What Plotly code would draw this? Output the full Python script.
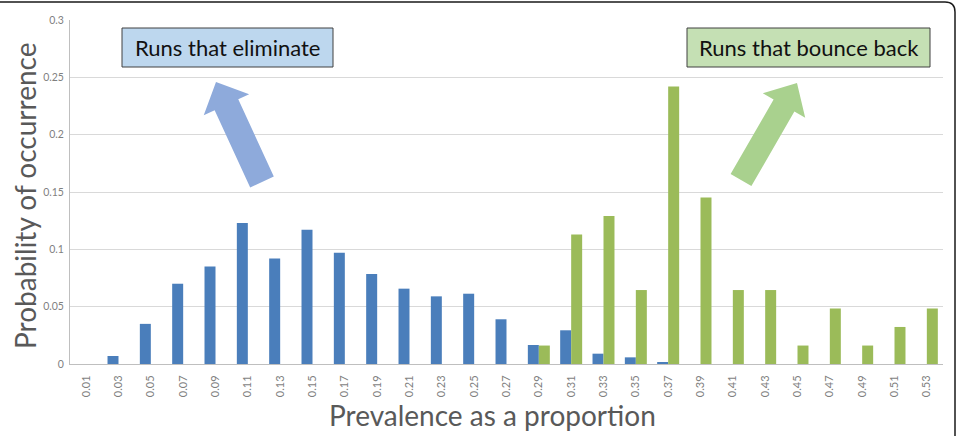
import math
import plotly.graph_objects as go

categories = ["0.01", "0.03", "0.05", "0.07", "0.09", "0.11", "0.13", "0.15", "0.17",
              "0.19", "0.21", "0.23", "0.25", "0.27", "0.29", "0.31", "0.33", "0.35",
              "0.37", "0.39", "0.41", "0.43", "0.45", "0.47", "0.49", "0.51", "0.53"]
eliminate = [0, 0.007, 0.035, 0.070, 0.085, 0.123, 0.092, 0.117, 0.097,
             0.0785, 0.0657, 0.059, 0.0613, 0.039, 0.0166, 0.0294, 0.009, 0.0058,
             0.001, 0, 0, 0, 0, 0, 0, 0, 0]
bounce = [0, 0, 0, 0, 0, 0, 0, 0, 0,
          0, 0, 0, 0, 0, 0.0161, 0.1129, 0.1290, 0.0645,
          0.2419, 0.1452, 0.0645, 0.0645, 0.0161, 0.0484, 0.0161, 0.0323, 0.0484]
y_ticks = [0, 0.05, 0.1, 0.15, 0.2, 0.25, 0.3]
y_tick_text = ["0", "0.05", "0.1", "0.15", "0.2", "0.25", "0.3"]

W, H = 959, 436
L, R, T, B = 70, 943, 20, 364
FONT = "Lato, Open Sans, sans-serif"

def px(x, y):
    return ((x - L) / (R - L), (B - y) / (B - T))

def arrow_path(tail, tip, shaft_w, head_w, head_len):
    dx, dy = tip[0] - tail[0], tip[1] - tail[1]
    n = math.hypot(dx, dy)
    ux, uy = dx / n, dy / n
    vx, vy = -uy, ux
    bx, by = tip[0] - ux * head_len, tip[1] - uy * head_len
    pts = [
        (tail[0] + vx * shaft_w / 2, tail[1] + vy * shaft_w / 2),
        (bx + vx * shaft_w / 2, by + vy * shaft_w / 2),
        (bx + vx * head_w / 2, by + vy * head_w / 2),
        tip,
        (bx - vx * head_w / 2, by - vy * head_w / 2),
        (bx - vx * shaft_w / 2, by - vy * shaft_w / 2),
        (tail[0] - vx * shaft_w / 2, tail[1] - vy * shaft_w / 2),
    ]
    s = ""
    for i, (x, y) in enumerate(pts):
        a, b = px(x, y)
        s += ("M" if i == 0 else "L") + f"{a:.5f},{b:.5f} "
    return s + "Z"

fig = go.Figure()
fig.add_trace(go.Bar(x=categories, y=eliminate, name="Runs that eliminate",
                     marker=dict(color="#4a7ebb", line=dict(width=0))))
fig.add_trace(go.Bar(x=categories, y=bounce, name="Runs that bounce back",
                     marker=dict(color="#9bbb59", line=dict(width=0))))

shapes = []
# outer frame (cropped rounded rectangle)
p0 = px(0, 2); p1 = px(945, 2); pc = px(955, 2); p2 = px(955, 12); p3 = px(955, 440)
shapes.append(dict(type="path", xref="paper", yref="paper",
                   path=f"M{p0[0]},{p0[1]} L{p1[0]},{p1[1]} Q{pc[0]},{pc[1]} {p2[0]},{p2[1]} L{p3[0]},{p3[1]}",
                   line=dict(color="#1a1a1a", width=1.5), layer="above"))
# arrows
shapes.append(dict(type="path", xref="paper", yref="paper",
                   path=arrow_path((262, 182), (216, 82), 26, 50, 25),
                   fillcolor="#8eaadb", line=dict(width=0), layer="above"))
shapes.append(dict(type="path", xref="paper", yref="paper",
                   path=arrow_path((741, 180), (797, 83), 24, 49, 26),
                   fillcolor="#a9d18e", line=dict(width=0), layer="above"))
# label boxes
for (x0, y0, x1, y1, col) in [(122, 28, 333, 67, "#bdd7ee"), (687, 28, 930, 67, "#c5e0b4")]:
    a = px(x0, y1); b = px(x1, y0)
    shapes.append(dict(type="rect", xref="paper", yref="paper", x0=a[0], y0=a[1], x1=b[0], y1=b[1],
                       fillcolor=col, line=dict(color="#404040", width=1), layer="above"))

annotations = []
for (cx, cy, txt) in [(227.5, 47.5, "Runs that eliminate"), (808.5, 47.5, "Runs that bounce back")]:
    a = px(cx, cy)
    annotations.append(dict(x=a[0], y=a[1], xref="paper", yref="paper", text=txt, showarrow=False,
                            xanchor="center", yanchor="middle",
                            font=dict(family=FONT, size=22, color="#111111")))
# axis titles
a = px(492, 415)
annotations.append(dict(x=a[0], y=a[1], xref="paper", yref="paper", text="Prevalence as a proportion",
                        showarrow=False, xanchor="center", yanchor="middle",
                        font=dict(family=FONT, size=28, color="#595959")))
a = px(25, 196)
annotations.append(dict(x=a[0], y=a[1], xref="paper", yref="paper", text="Probability of occurrence",
                        showarrow=False, xanchor="center", yanchor="middle", textangle=-90,
                        font=dict(family=FONT, size=28, color="#595959")))

fig.update_layout(
    width=W, height=H,
    margin=dict(l=L, r=W - R, t=T, b=H - B, pad=0),
    paper_bgcolor="white", plot_bgcolor="white",
    barmode="group", bargap=0.32, bargroupgap=0,
    showlegend=False,
    font=dict(family=FONT, color="#7f7f7f"),
    shapes=shapes, annotations=annotations,
    xaxis=dict(type="category", tickangle=-90, tickfont=dict(size=11, color="#7f7f7f"),
               showline=True, linecolor="#bfbfbf", linewidth=1, ticks="outside",
               ticklen=6, tickcolor="rgba(0,0,0,0)", showgrid=False),
    yaxis=dict(range=[0, 0.3], tickvals=y_ticks, ticktext=y_tick_text,
               tickfont=dict(size=10.5, color="#7f7f7f"),
               showline=True, linecolor="#bfbfbf", linewidth=1, ticks="outside",
               ticklen=3, tickcolor="rgba(0,0,0,0)",
               showgrid=True, gridcolor="#d9d9d9", gridwidth=1, zeroline=False),
)

fig.write_html("out.html")
